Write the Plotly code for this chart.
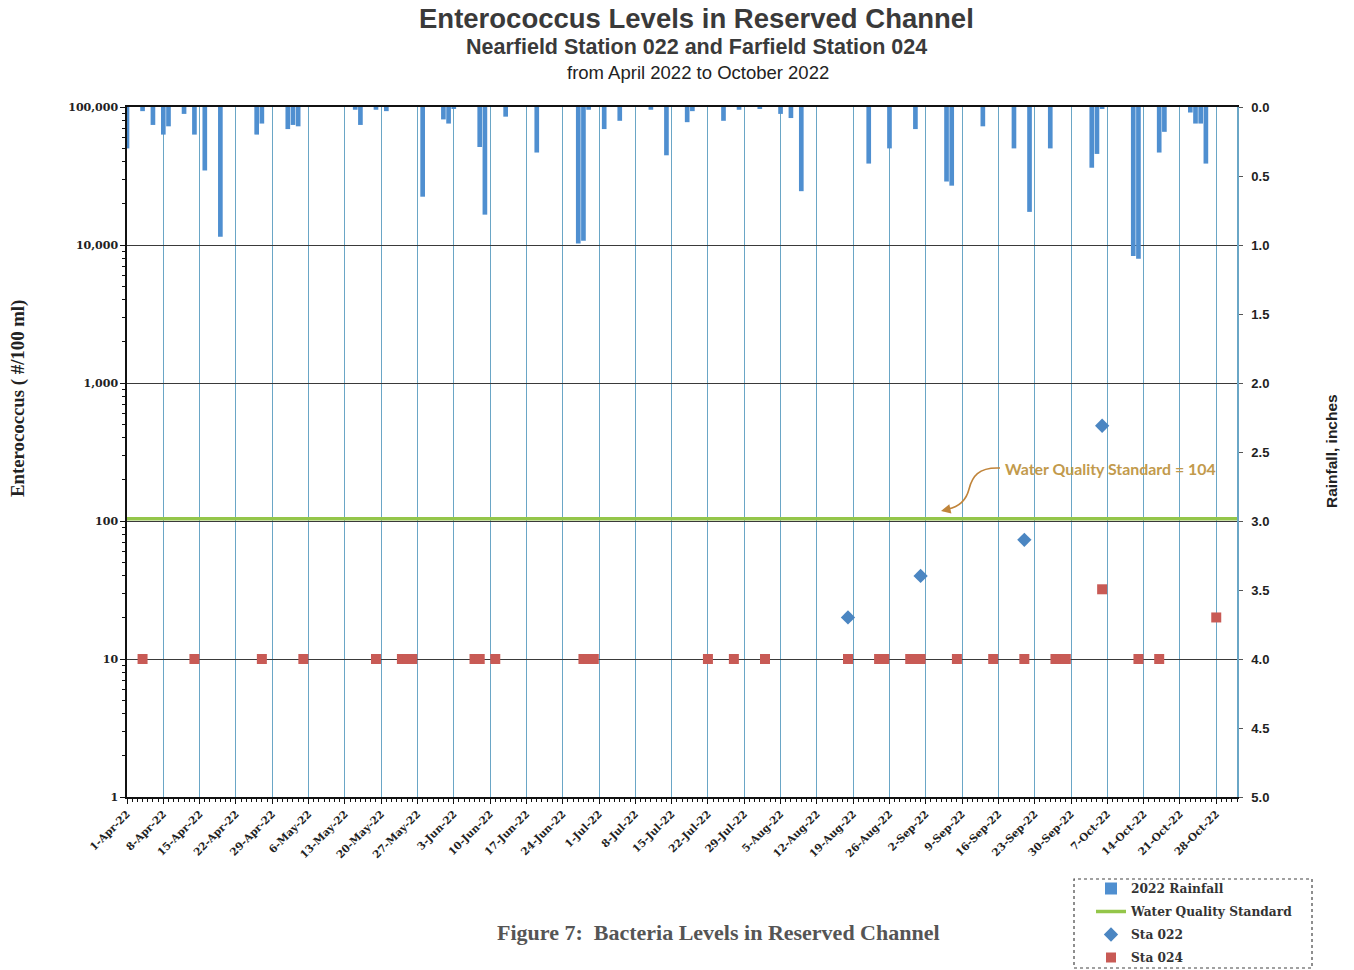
import plotly.graph_objects as go

# ---- data -------------------------------------------------------------
rain_dates = [
    "2022-04-01", "2022-04-04", "2022-04-06", "2022-04-08", "2022-04-09",
    "2022-04-12", "2022-04-14", "2022-04-16", "2022-04-19", "2022-04-26",
    "2022-04-27", "2022-05-02", "2022-05-03", "2022-05-04", "2022-05-15",
    "2022-05-16", "2022-05-19", "2022-05-21", "2022-05-28", "2022-06-01",
    "2022-06-02", "2022-06-03", "2022-06-08", "2022-06-09", "2022-06-13",
    "2022-06-19", "2022-06-27", "2022-06-28", "2022-06-29", "2022-07-02",
    "2022-07-05", "2022-07-11", "2022-07-14", "2022-07-18", "2022-07-19",
    "2022-07-25", "2022-07-28", "2022-08-01", "2022-08-05", "2022-08-07",
    "2022-08-09", "2022-08-22", "2022-08-26", "2022-08-31", "2022-09-06",
    "2022-09-07", "2022-09-13", "2022-09-19", "2022-09-22", "2022-09-26",
    "2022-10-04", "2022-10-05", "2022-10-06", "2022-10-12", "2022-10-13",
    "2022-10-17", "2022-10-18", "2022-10-23", "2022-10-24", "2022-10-25",
    "2022-10-26",
]
rain_in = [
    0.30, 0.03, 0.13, 0.20, 0.14,
    0.05, 0.20, 0.46, 0.94, 0.20,
    0.12, 0.16, 0.13, 0.14, 0.02,
    0.13, 0.02, 0.03, 0.65, 0.09,
    0.12, 0.01, 0.29, 0.78, 0.07,
    0.33, 0.99, 0.97, 0.02, 0.16,
    0.10, 0.02, 0.35, 0.11, 0.03,
    0.10, 0.02, 0.01, 0.05, 0.08,
    0.61, 0.41, 0.30, 0.16, 0.54,
    0.57, 0.14, 0.30, 0.76, 0.30,
    0.44, 0.34, 0.01, 1.08, 1.10,
    0.33, 0.18, 0.04, 0.12, 0.12,
    0.41,
]

sta022_dates = ["2022-08-18", "2022-09-01", "2022-09-21", "2022-10-06"]
sta022_vals = [20, 40, 73, 490]

sta024_dates = [
    "2022-04-04", "2022-04-14", "2022-04-27", "2022-05-05", "2022-05-19",
    "2022-05-24", "2022-05-25", "2022-05-26", "2022-06-07", "2022-06-08",
    "2022-06-11", "2022-06-28", "2022-06-29", "2022-06-30", "2022-07-22",
    "2022-07-27", "2022-08-02", "2022-08-18", "2022-08-24", "2022-08-25",
    "2022-08-30", "2022-08-31", "2022-09-01", "2022-09-08", "2022-09-15",
    "2022-09-21", "2022-09-27", "2022-09-28", "2022-09-29", "2022-10-06",
    "2022-10-13", "2022-10-17", "2022-10-28",
]
sta024_vals = [
    10, 10, 10, 10, 10,
    10, 10, 10, 10, 10,
    10, 10, 10, 10, 10,
    10, 10, 10, 10, 10,
    10, 10, 10, 10, 10,
    10, 10, 10, 10, 32,
    10, 10, 20,
]

wqs_value = 104
x_start, x_end = "2022-04-01", "2022-11-01"

left_tickvals = [1, 10, 100, 1000, 10000, 100000]
left_ticktext = ["1", "10", "100", "1,000", "10,000", "100,000"]

# ---- layout geometry (pixels) ------------------------------------------
W, H = 1354, 970
L, R, T, B = 127, 1237, 107, 797


def px_x(px):
    return (px - L) / (R - L)


def px_y(py):
    return (B - py) / (B - T)


def label(text, cx, cy, font, angle=0):
    fig.add_annotation(
        text=text, x=px_x(cx), y=px_y(cy), xref="paper", yref="paper",
        xanchor="center", yanchor="middle", showarrow=False,
        textangle=angle, font=font,
    )


DAY_MS = 86400000
serif = "DejaVu Serif"
sans = "Liberation Sans"

fig = go.Figure()

fig.add_trace(go.Bar(
    x=rain_dates, y=rain_in, yaxis="y2", name="2022 Rainfall",
    marker=dict(color="#4f8fd0", line=dict(width=0)),
    width=0.9 * DAY_MS, legendgroup="a",
))
fig.add_trace(go.Scatter(
    x=[x_start, x_end], y=[wqs_value, wqs_value], mode="lines",
    name="Water Quality Standard", line=dict(color="#94c64a", width=3.5),
    legendgroup="b",
))
fig.add_trace(go.Scatter(
    x=sta022_dates, y=sta022_vals, mode="markers", name="Sta 022",
    marker=dict(symbol="diamond", size=11, color="#4b86c2"),
    legendgroup="c",
))
fig.add_trace(go.Scatter(
    x=sta024_dates, y=sta024_vals, mode="markers", name="Sta 024",
    marker=dict(symbol="square", size=10, color="#c85a55"),
    legendgroup="d",
))

fig.update_layout(
    width=W, height=H,
    margin=dict(l=L, r=W - R, t=T, b=H - B, autoexpand=False),
    paper_bgcolor="white", plot_bgcolor="white",
    showlegend=True,
    bargap=0.1,
    xaxis=dict(
        type="date", range=[x_start, x_end],
        tick0=x_start, dtick=7 * DAY_MS, tickformat="%-d-%b-%y",
        tickangle=-45,
        tickfont=dict(family=serif, size=10.5, color="#222", weight="bold"),
        showgrid=True, gridcolor="#6aa6c6", gridwidth=1,
        showline=True, linecolor="#111", linewidth=1.5, mirror=True,
        ticks="outside", ticklen=5, tickcolor="#111",
        minor=dict(dtick=DAY_MS, tick0=x_start, ticks="outside", ticklen=3,
                   tickcolor="#111", showgrid=False),
        zeroline=False,
    ),
    yaxis=dict(
        type="log", range=[0, 5],
        tickvals=left_tickvals, ticktext=left_ticktext,
        tickfont=dict(family=serif, size=11, color="#222", weight="bold"),
        showgrid=True, gridcolor="#3a3a3a", gridwidth=1,
        showline=True, linecolor="#111", linewidth=1.5,
        ticks="outside", ticklen=5, tickcolor="#111",
        minor=dict(dtick="D1", ticks="outside", ticklen=3, tickcolor="#111",
                   showgrid=False),
        zeroline=False,
    ),
    yaxis2=dict(
        overlaying="y", side="right", range=[5, 0], dtick=0.5,
        tickformat=".1f",
        tickfont=dict(family=sans, size=13, color="#222", weight="bold"),
        showgrid=False, showline=True, linecolor="#6aa6c6", linewidth=1.5,
        ticks="outside", ticklen=4, tickcolor="#555",
        zeroline=False, ticklabelstandoff=6,
    ),
    legend=dict(
        x=px_x(1091), y=px_y(874), xanchor="left", yanchor="top",
        font=dict(family=serif, size=12.2, color="#333", weight="bold"),
        bgcolor="rgba(0,0,0,0)", borderwidth=0,
        tracegroupgap=4, itemwidth=30, traceorder="grouped",
    ),
)

# titles
label("<b>Enterococcus Levels in Reserved Channel</b>", 696, 19,
      dict(family=sans, size=27.5, color="#3a3a3a"))
label("<b>Nearfield Station 022 and Farfield Station 024</b>", 696, 47,
      dict(family=sans, size=21.5, color="#3a3a3a"))
label("from April 2022 to October 2022", 698, 73,
      dict(family=sans, size=18.5, color="#222"))

# axis titles
label("<b>Enterococcus ( #/100 ml)</b>", 18, 399,
      dict(family="Liberation Serif", size=18.8, color="#222"), angle=-90)
label("<b>Rainfall, inches</b>", 1331, 451,
      dict(family=sans, size=15.5, color="#222"), angle=-90)

# water quality standard call-out with curved arrow
label("<b>Water Quality Standard = 104</b>", 1110, 469,
      dict(family="Lato", size=15.9, color="#c29a4c"))
curve = "M {:.4f},{:.4f} C {:.4f},{:.4f} {:.4f},{:.4f} {:.4f},{:.4f} C {:.4f},{:.4f} {:.4f},{:.4f} {:.4f},{:.4f}".format(
    px_x(1000), px_y(468), px_x(978), px_y(467), px_x(972), px_y(477),
    px_x(969), px_y(489), px_x(966), px_y(501), px_x(958), px_y(507),
    px_x(948), px_y(509),
)
fig.add_shape(type="path", path=curve, xref="paper", yref="paper",
              line=dict(color="#c0843a", width=1.6))
fig.add_annotation(
    text="", x=px_x(941), y=px_y(511), xref="paper", yref="paper",
    showarrow=True, ax=9, ay=-2, arrowhead=2, arrowsize=1.2,
    arrowwidth=1.6, arrowcolor="#c0843a",
)

# caption
label("<b>Figure 7:  Bacteria Levels in Reserved Channel</b>", 718, 932,
      dict(family="Liberation Serif", size=22, color="#555"))

# dashed legend frame
fig.add_shape(type="rect", xref="paper", yref="paper",
              x0=px_x(1074), x1=px_x(1312), y0=px_y(968), y1=px_y(879),
              line=dict(color="#444", width=1.2, dash="dot"))

fig.write_html("out.html")
